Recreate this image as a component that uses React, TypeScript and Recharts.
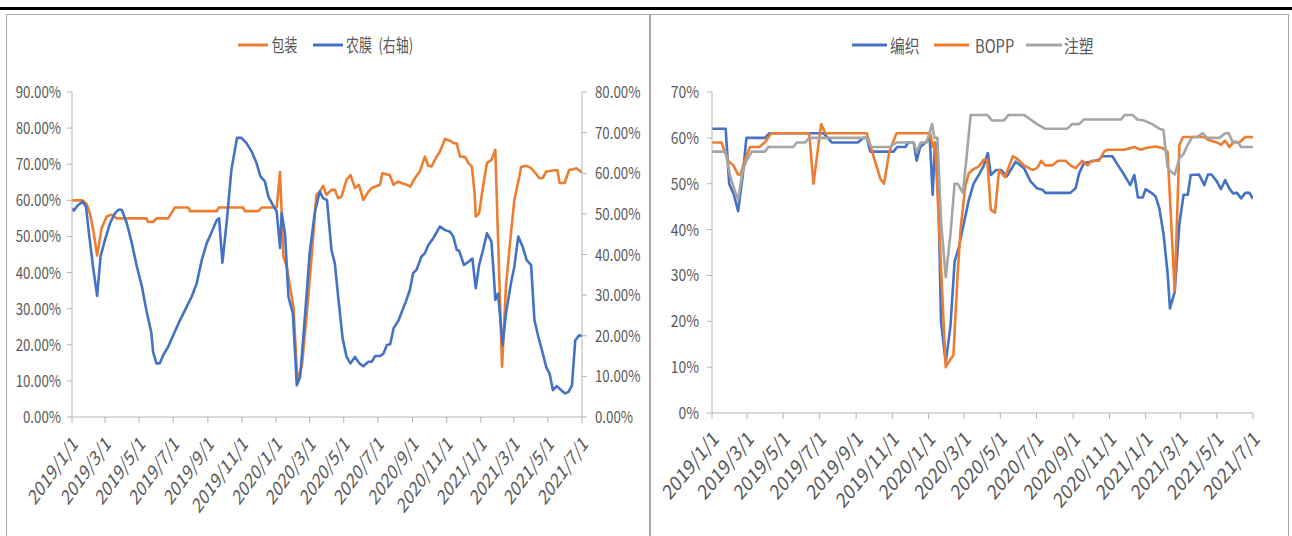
import React from 'react';
import { LineChart, Line, XAxis, YAxis } from 'recharts';

const FONT = "'Noto Sans CJK SC', 'Noto Sans', sans-serif";
const TEXT = '#595959';
const AXIS = '#b4b4b4';
const ORANGE = '#ED7D31';
const BLUE = '#4472C4';
const GRAY = '#A5A5A5';

type Pt = [string, number];

// 左图：包装（左轴）
const packaging: Pt[] = [
  ['2019-01-01', 60], ['2019-01-20', 60], ['2019-01-27', 59], ['2019-02-02', 56.4], ['2019-02-08', 51.8],
  ['2019-02-15', 44.7], ['2019-02-23', 52.3], ['2019-03-04', 55.5], ['2019-03-13', 56], ['2019-03-22', 55],
  ['2019-05-14', 55], ['2019-05-17', 54], ['2019-05-26', 54], ['2019-06-01', 55], ['2019-06-22', 55],
  ['2019-07-04', 58], ['2019-07-28', 58], ['2019-07-31', 57], ['2019-09-17', 57], ['2019-09-20', 58],
  ['2019-11-03', 58], ['2019-11-06', 57], ['2019-11-30', 57], ['2019-12-06', 58], ['2020-01-02', 58],
  ['2020-01-08', 67.8], ['2020-01-14', 44.4], ['2020-01-20', 41.6], ['2020-01-26', 36], ['2020-02-01', 30.5],
  ['2020-02-08', 10.2], ['2020-02-16', 14], ['2020-02-25', 28.7], ['2020-03-04', 43.5], ['2020-03-13', 61.5],
  ['2020-03-19', 62.4], ['2020-03-25', 64], ['2020-03-31', 61.5], ['2020-04-09', 62.9], ['2020-04-15', 62.9],
  ['2020-04-21', 60.6], ['2020-04-27', 61], ['2020-05-06', 65.7], ['2020-05-13', 67], ['2020-05-21', 63.4],
  ['2020-05-28', 64.3], ['2020-06-05', 60.1], ['2020-06-14', 62.4], ['2020-06-20', 63.4], ['2020-07-05', 64.3],
  ['2020-07-09', 67.5], ['2020-07-22', 67], ['2020-07-29', 64.3], ['2020-08-06', 65.2], ['2020-08-15', 64.6],
  ['2020-08-22', 64.3], ['2020-08-28', 63.8], ['2020-09-05', 66.1], ['2020-09-14', 68], ['2020-09-23', 72.1],
  ['2020-09-29', 69.6], ['2020-10-05', 69.4], ['2020-10-14', 72.1], ['2020-10-20', 73.5], ['2020-10-29', 77],
  ['2020-11-07', 76.5], ['2020-11-13', 75.9], ['2020-11-19', 75.7], ['2020-11-25', 72.1], ['2020-12-04', 72],
  ['2020-12-10', 70.3], ['2020-12-16', 69.4], ['2020-12-21', 62], ['2020-12-23', 55.5], ['2020-12-29', 56.4],
  ['2021-01-05', 63.8], ['2021-01-12', 70.3], ['2021-01-20', 71.2], ['2021-01-27', 74], ['2021-02-08', 13.9],
  ['2021-02-15', 36.1], ['2021-02-24', 50.9], ['2021-03-02', 60.1], ['2021-03-11', 66.6], ['2021-03-14', 69.2],
  ['2021-03-23', 69.6], ['2021-04-01', 68.9], ['2021-04-09', 67.5], ['2021-04-16', 66.1], ['2021-04-22', 66.2],
  ['2021-04-28', 68], ['2021-05-08', 68.2], ['2021-05-18', 68.4], ['2021-05-22', 64.8], ['2021-05-31', 64.8],
  ['2021-06-08', 68.4], ['2021-06-15', 68.6], ['2021-06-21', 68.9], ['2021-07-01', 67.7],
];

// 左图：农膜（右轴）
const agriFilm: Pt[] = [
  ['2019-01-01', 51.4], ['2019-01-04', 50.8], ['2019-01-12', 52.2], ['2019-01-20', 53], ['2019-01-26', 51.8],
  ['2019-02-01', 44.4], ['2019-02-08', 36.6], ['2019-02-15', 29.8], ['2019-02-21', 39.5], ['2019-03-01', 43.6],
  ['2019-03-10', 47.7], ['2019-03-19', 50.2], ['2019-03-25', 51], ['2019-03-31', 51], ['2019-04-09', 47.7],
  ['2019-04-18', 42.8], ['2019-04-27', 37], ['2019-05-06', 32.1], ['2019-05-14', 26.3], ['2019-05-23', 20.6],
  ['2019-05-26', 16], ['2019-06-01', 13.2], ['2019-06-07', 13.2], ['2019-06-13', 15.2], ['2019-06-22', 17.3],
  ['2019-07-01', 20.1], ['2019-07-13', 23.8], ['2019-07-25', 27.1], ['2019-08-03', 29.6], ['2019-08-12', 32.9],
  ['2019-08-21', 38.6], ['2019-08-30', 42.8], ['2019-09-08', 45.6], ['2019-09-17', 48.5], ['2019-09-21', 48.9],
  ['2019-09-27', 38], ['2019-10-05', 48.5], ['2019-10-13', 60.8], ['2019-10-23', 68.7], ['2019-10-31', 68.7],
  ['2019-11-09', 67.4], ['2019-11-18', 65.4], ['2019-11-27', 62.5], ['2019-12-04', 59.2], ['2019-12-12', 58],
  ['2019-12-18', 54.3], ['2019-12-26', 52.2], ['2020-01-02', 50.6], ['2020-01-08', 41.6], ['2020-01-11', 50.2],
  ['2020-01-17', 45], ['2020-01-23', 29.6], ['2020-01-31', 25.5], ['2020-02-07', 7.8], ['2020-02-13', 9.9],
  ['2020-02-22', 25.5], ['2020-03-01', 40.3], ['2020-03-10', 50.2], ['2020-03-19', 55.5], ['2020-03-25', 53.9],
  ['2020-04-01', 53.4], ['2020-04-09', 41.1], ['2020-04-15', 37.8], ['2020-04-21', 29.6], ['2020-04-29', 19.3],
  ['2020-05-06', 14.8], ['2020-05-13', 13.2], ['2020-05-21', 14.8], ['2020-05-29', 13.2], ['2020-06-05', 12.5],
  ['2020-06-14', 13.6], ['2020-06-20', 13.6], ['2020-06-26', 15], ['2020-07-05', 15], ['2020-07-11', 15.6],
  ['2020-07-17', 17.7], ['2020-07-23', 17.9], ['2020-07-29', 21.8], ['2020-08-07', 23.8], ['2020-08-14', 26.3],
  ['2020-08-20', 28.4], ['2020-08-27', 31.2], ['2020-09-02', 35.4], ['2020-09-08', 36.2], ['2020-09-17', 39.5],
  ['2020-09-23', 40.3], ['2020-09-29', 42.3], ['2020-10-08', 44], ['2020-10-20', 46.9], ['2020-10-29', 46],
  ['2020-11-07', 45.6], ['2020-11-13', 44.4], ['2020-11-19', 41.1], ['2020-11-23', 41], ['2020-12-02', 37.4],
  ['2020-12-10', 38.2], ['2020-12-17', 39], ['2020-12-23', 31.7], ['2020-12-29', 37.4], ['2021-01-05', 41.1],
  ['2021-01-12', 45.2], ['2021-01-20', 43.2], ['2021-01-24', 35.4], ['2021-01-27', 28.8], ['2021-02-01', 30.4],
  ['2021-02-09', 17.7], ['2021-02-15', 25.5], ['2021-02-24', 32.9], ['2021-03-02', 37], ['2021-03-09', 44.4],
  ['2021-03-17', 41.9], ['2021-03-24', 38.6], ['2021-04-01', 37.4], ['2021-04-07', 23.8], ['2021-04-14', 19.7],
  ['2021-04-22', 15.6], ['2021-04-28', 12.3], ['2021-05-04', 10.7], ['2021-05-10', 6.6], ['2021-05-17', 7.6],
  ['2021-05-25', 6.6], ['2021-06-01', 5.8], ['2021-06-07', 6.2], ['2021-06-13', 7.8], ['2021-06-19', 18.9],
  ['2021-06-26', 20.1], ['2021-07-01', 20],
];

// 右图：编织
const weaving: Pt[] = [
  ['2019-01-01', 62], ['2019-01-24', 62], ['2019-01-30', 50], ['2019-02-07', 47.6], ['2019-02-14', 44],
  ['2019-02-22', 52], ['2019-02-28', 60], ['2019-03-31', 60], ['2019-04-08', 61], ['2019-07-08', 61],
  ['2019-07-22', 59], ['2019-09-04', 59], ['2019-09-13', 60], ['2019-09-19', 60], ['2019-09-25', 57],
  ['2019-11-03', 57], ['2019-11-09', 58], ['2019-11-23', 58], ['2019-11-28', 59], ['2019-12-07', 59],
  ['2019-12-12', 55], ['2019-12-18', 58], ['2019-12-27', 59], ['2020-01-03', 60], ['2020-01-08', 47.6],
  ['2020-01-12', 59], ['2020-01-16', 58], ['2020-01-22', 20], ['2020-01-30', 11], ['2020-02-07', 19],
  ['2020-02-14', 33], ['2020-02-21', 36], ['2020-02-29', 41], ['2020-03-09', 46.5], ['2020-03-17', 50],
  ['2020-03-26', 52], ['2020-04-03', 53.9], ['2020-04-10', 56.7], ['2020-04-15', 51.9], ['2020-04-24', 53],
  ['2020-05-02', 53], ['2020-05-12', 51.6], ['2020-05-27', 54.8], ['2020-06-10', 53.4], ['2020-06-21', 50.5],
  ['2020-07-02', 49], ['2020-07-11', 48.7], ['2020-07-16', 48], ['2020-08-27', 48], ['2020-09-05', 49],
  ['2020-09-11', 52.3], ['2020-09-19', 54.5], ['2020-09-30', 54.8], ['2020-10-14', 55.2], ['2020-10-20', 56],
  ['2020-11-06', 56], ['2020-11-15', 54.1], ['2020-11-26', 51.9], ['2020-12-06', 49.7], ['2020-12-13', 51.9],
  ['2020-12-19', 47], ['2020-12-27', 47], ['2021-01-01', 48.8], ['2021-01-12', 47.9], ['2021-01-18', 47.2],
  ['2021-01-24', 44.7], ['2021-01-31', 39.2], ['2021-02-07', 30.5], ['2021-02-11', 22.8], ['2021-02-19', 26.4],
  ['2021-02-27', 41.4], ['2021-03-06', 47.6], ['2021-03-13', 47.6], ['2021-03-18', 51.9], ['2021-04-01', 52],
  ['2021-04-10', 49.7], ['2021-04-16', 52], ['2021-04-22', 52], ['2021-05-01', 50.5], ['2021-05-08', 48.8],
  ['2021-05-15', 50.8], ['2021-05-22', 49], ['2021-05-28', 47.9], ['2021-06-04', 48], ['2021-06-11', 46.8],
  ['2021-06-18', 48], ['2021-06-25', 48], ['2021-07-01', 46.7],
];

// 右图：BOPP
const bopp: Pt[] = [
  ['2019-01-01', 59], ['2019-01-17', 59], ['2019-01-28', 55], ['2019-02-06', 54], ['2019-02-14', 52],
  ['2019-02-18', 52], ['2019-02-25', 55], ['2019-03-06', 58], ['2019-03-22', 58], ['2019-03-31', 59],
  ['2019-04-11', 61], ['2019-06-14', 61], ['2019-06-21', 50], ['2019-07-04', 63], ['2019-07-11', 61],
  ['2019-09-19', 61], ['2019-09-28', 57], ['2019-10-12', 51], ['2019-10-18', 50], ['2019-10-27', 57],
  ['2019-11-08', 61], ['2020-01-04', 61], ['2020-01-08', 58], ['2020-01-12', 59], ['2020-01-22', 32],
  ['2020-01-30', 10], ['2020-02-06', 11.5], ['2020-02-12', 12.6], ['2020-02-19', 30], ['2020-02-24', 40],
  ['2020-03-03', 49.4], ['2020-03-09', 52.3], ['2020-03-17', 53.2], ['2020-03-26', 53.8], ['2020-04-03', 55.2],
  ['2020-04-09', 55.2], ['2020-04-15', 44.3], ['2020-04-22', 43.7], ['2020-04-29', 53], ['2020-05-09', 51.4],
  ['2020-05-22', 56], ['2020-05-28', 55.6], ['2020-06-10', 54], ['2020-06-24', 53], ['2020-07-02', 53.4],
  ['2020-07-09', 55], ['2020-07-16', 54], ['2020-07-28', 54], ['2020-08-06', 55], ['2020-08-19', 55],
  ['2020-08-27', 54], ['2020-09-05', 53.4], ['2020-09-16', 55], ['2020-09-25', 54], ['2020-10-02', 55],
  ['2020-10-14', 55], ['2020-10-23', 57], ['2020-10-28', 57.4], ['2020-11-26', 57.4], ['2020-12-13', 58],
  ['2020-12-24', 57.4], ['2021-01-01', 57.8], ['2021-01-18', 58.1], ['2021-01-29', 57.8], ['2021-02-07', 57],
  ['2021-02-19', 26.7], ['2021-02-27', 58.5], ['2021-03-05', 60.2], ['2021-04-10', 60.2], ['2021-04-16', 59.6],
  ['2021-05-01', 59], ['2021-05-08', 58.5], ['2021-05-15', 59.4], ['2021-05-22', 58], ['2021-05-30', 59.2],
  ['2021-06-08', 59], ['2021-06-18', 60.2], ['2021-07-01', 60.2],
];

// 右图：注塑
const injection: Pt[] = [
  ['2019-01-01', 57], ['2019-01-24', 57], ['2019-01-31', 52], ['2019-02-07', 49], ['2019-02-14', 46.5],
  ['2019-02-22', 53], ['2019-02-28', 55], ['2019-03-09', 57], ['2019-03-31', 57], ['2019-04-06', 58],
  ['2019-05-18', 58], ['2019-05-24', 59], ['2019-06-07', 59], ['2019-06-14', 60], ['2019-09-19', 60],
  ['2019-09-26', 58], ['2019-10-28', 58], ['2019-11-08', 59], ['2019-12-07', 59], ['2019-12-12', 57],
  ['2019-12-19', 59], ['2019-12-29', 59], ['2020-01-07', 63], ['2020-01-11', 60], ['2020-01-16', 60],
  ['2020-01-22', 42], ['2020-01-30', 29.6], ['2020-02-07', 39], ['2020-02-14', 50], ['2020-02-19', 50],
  ['2020-02-28', 48], ['2020-03-05', 55.6], ['2020-03-12', 65], ['2020-04-09', 65], ['2020-04-17', 63.8],
  ['2020-05-07', 63.8], ['2020-05-15', 65], ['2020-06-10', 65], ['2020-06-21', 64], ['2020-07-02', 63],
  ['2020-07-15', 62], ['2020-08-22', 62], ['2020-08-30', 63], ['2020-09-11', 63], ['2020-09-19', 64],
  ['2020-11-20', 64], ['2020-11-27', 65], ['2020-12-10', 65], ['2020-12-18', 64], ['2020-12-29', 63.8],
  ['2021-01-12', 63], ['2021-01-24', 62], ['2021-01-31', 61.7], ['2021-02-07', 53.6], ['2021-02-12', 52.7],
  ['2021-02-19', 52], ['2021-02-27', 55.6], ['2021-03-06', 56.5], ['2021-03-13', 58.5], ['2021-03-21', 60.2],
  ['2021-03-29', 60.2], ['2021-04-07', 61], ['2021-04-15', 60], ['2021-05-06', 60], ['2021-05-15', 61],
  ['2021-05-21', 61], ['2021-05-28', 59], ['2021-06-06', 59], ['2021-06-11', 58], ['2021-07-01', 58],
];

const dateTicks = [
  '2019-01-01', '2019-03-01', '2019-05-01', '2019-07-01', '2019-09-01', '2019-11-01',
  '2020-01-01', '2020-03-01', '2020-05-01', '2020-07-01', '2020-09-01', '2020-11-01',
  '2021-01-01', '2021-03-01', '2021-05-01', '2021-07-01',
];
const leftTicks = [0, 10, 20, 30, 40, 50, 60, 70, 80, 90];
const rightTicks = [0, 10, 20, 30, 40, 50, 60, 70, 80];
const boTicks = [0, 10, 20, 30, 40, 50, 60, 70];

const toPts = (arr: Pt[]) => arr.map(([d, v]) => ({ t: Date.parse(d), v }));
const xTicks = dateTicks.map((d) => Date.parse(d));
const xDomain = [xTicks[0], xTicks[xTicks.length - 1]];

const fmtDate = (t: number) => {
  const d = new Date(t);
  return `${d.getUTCFullYear()}/${d.getUTCMonth() + 1}/${d.getUTCDate()}`;
};

// Excel 导出的图被横向压缩过，文字也按比例压扁
const YTick = ({ x, y, payload, textAnchor, sx, fmt }: any) => (
  <text
    transform={`translate(${x},${y}) scale(${sx},1)`}
    textAnchor={textAnchor}
    dy={6}
    fill={TEXT}
    fontSize={16}
    fontFamily={FONT}
  >
    {fmt(payload.value)}
  </text>
);

const XTick = ({ x, y, payload, sx, dx, dy }: any) => (
  <text
    transform={`translate(${x + dx},${y + dy}) scale(${sx},1) rotate(-45)`}
    textAnchor="end"
    fill={TEXT}
    fontSize={21}
    fontFamily={FONT}
  >
    {fmtDate(payload.value)}
  </text>
);

const pct2 = (v: number) => `${v.toFixed(2)}%`;
const pct0 = (v: number) => `${v}%`;

const lineProps = {
  type: 'linear' as const,
  dataKey: 'v',
  dot: false,
  strokeWidth: 2.6,
  strokeLinejoin: 'round' as const,
  isAnimationActive: false,
};

function LeftChart() {
  const sx = 0.72;
  return (
    <LineChart width={650} height={536} margin={{ top: 92, right: 8, bottom: 19, left: 12 }}>
      <XAxis
        dataKey="t"
        type="number"
        domain={xDomain}
        ticks={xTicks}
        allowDataOverflow
        height={100}
        stroke={AXIS}
        tickSize={6}
        tickMargin={0}
        interval={0}
        tick={(p: any) => <XTick {...p} sx={sx} dx={7} dy={22} />}
      />
      <YAxis
        yAxisId="l"
        domain={[0, 90]}
        ticks={leftTicks}
        width={60}
        stroke={AXIS}
        tickSize={5}
        tickMargin={6}
        interval={0}
        tick={(p: any) => <YTick {...p} sx={0.83} fmt={pct2} />}
      />
      <YAxis
        yAxisId="r"
        orientation="right"
        domain={[0, 80]}
        ticks={rightTicks}
        width={60}
        stroke={AXIS}
        tickSize={5}
        tickMargin={8}
        interval={0}
        tick={(p: any) => <YTick {...p} sx={0.83} fmt={pct2} />}
      />
      <Line {...lineProps} yAxisId="l" data={toPts(packaging)} stroke={ORANGE} name="包装" />
      <Line {...lineProps} yAxisId="r" data={toPts(agriFilm)} stroke={BLUE} name="农膜 (右轴)" />
    </LineChart>
  );
}

function RightChart() {
  const sx = 0.82;
  return (
    <LineChart width={642} height={536} margin={{ top: 92, right: 39, bottom: 23, left: 12 }}>
      <XAxis
        dataKey="t"
        type="number"
        domain={xDomain}
        ticks={xTicks}
        allowDataOverflow
        height={100}
        stroke={AXIS}
        tickSize={6}
        tickMargin={0}
        interval={0}
        tick={(p: any) => <XTick {...p} sx={sx} dx={8} dy={21} />}
      />
      <YAxis
        domain={[0, 70]}
        ticks={boTicks}
        width={50}
        stroke={AXIS}
        tickSize={5}
        tickMargin={8}
        interval={0}
        tick={(p: any) => <YTick {...p} sx={0.87} fmt={pct0} />}
      />
      <Line {...lineProps} data={toPts(weaving)} stroke={BLUE} name="编织" />
      <Line {...lineProps} data={toPts(bopp)} stroke={ORANGE} name="BOPP" />
      <Line {...lineProps} data={toPts(injection)} stroke={GRAY} name="注塑" />
    </LineChart>
  );
}

const legendItems = [
  { x1: 238, x2: 268, tx: 271.5, color: ORANGE, label: '包装', sx: 0.72 },
  { x1: 313, x2: 343, tx: 346, color: BLUE, label: '农膜\u2002(右轴)', sx: 0.72 },
  { x1: 852, x2: 887, tx: 890, color: BLUE, label: '编织', sx: 0.82 },
  { x1: 934, x2: 969, tx: 975, color: ORANGE, label: 'BOPP', sx: 0.82 },
  { x1: 1026, x2: 1062, tx: 1064, color: GRAY, label: '注塑', sx: 0.82 },
];

export default function App() {
  return (
    <div
      style={{
        position: 'absolute',
        left: 0,
        top: 0,
        width: 1292,
        height: 536,
        background: '#fff',
        overflow: 'hidden',
      }}
    >
      <div style={{ position: 'absolute', left: 0, top: 7, width: 1292, height: 3, background: '#000' }} />
      <div style={{ position: 'absolute', left: 6, top: 14, width: 643, height: 600, border: '1px solid #a6a6a6' }} />
      <div style={{ position: 'absolute', left: 649, top: 14, width: 638, height: 600, border: '1px solid #a6a6a6' }} />
      <div style={{ position: 'absolute', left: 0, top: 0 }}>
        <LeftChart />
      </div>
      <div style={{ position: 'absolute', left: 650, top: 0 }}>
        <RightChart />
      </div>
      <svg
        width={1292}
        height={536}
        style={{ position: 'absolute', left: 0, top: 0, pointerEvents: 'none' }}
      >
        {legendItems.map((it) => (
          <g key={it.label}>
            <line x1={it.x1} x2={it.x2} y1={45} y2={45} stroke={it.color} strokeWidth={3} />
            <text
              transform={`translate(${it.tx},45) scale(${it.sx},1)`}
              dominantBaseline="central"
              fill={TEXT}
              fontSize={18}
              fontFamily={FONT}
            >
              {it.label}
            </text>
          </g>
        ))}
      </svg>
    </div>
  );
}
